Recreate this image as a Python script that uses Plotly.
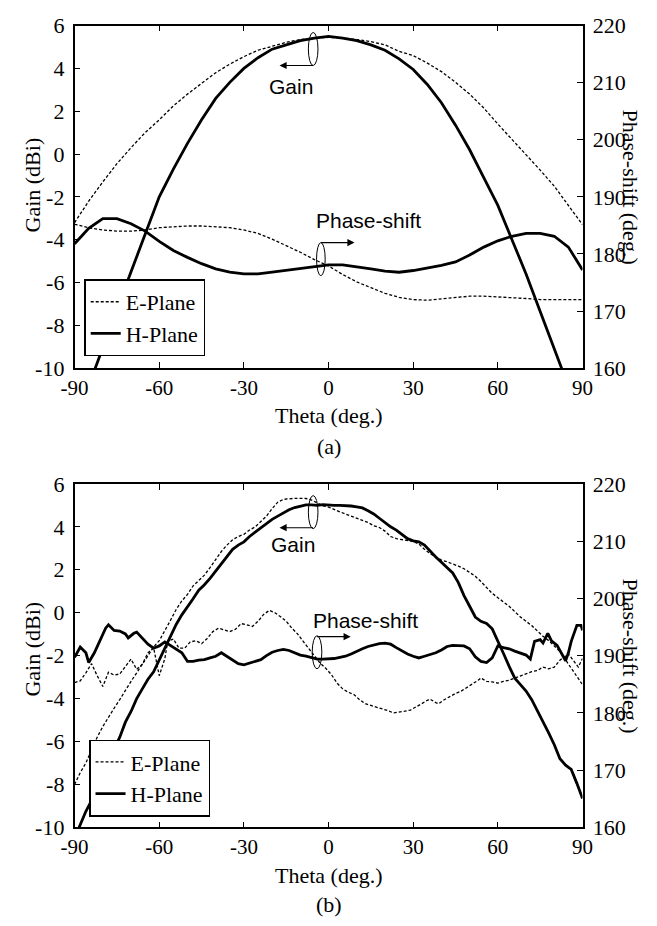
import plotly.graph_objects as go

W, H = 657, 926

# ---------------- data: panel (a) ----------------
theta_a = list(range(-90, 91, 5))
gain_e_a = [-3.2, -2.2, -1.3, -0.45, 0.3, 1.0, 1.6, 2.25, 2.8, 3.3, 3.8, 4.2, 4.55, 4.85, 5.05, 5.22, 5.35, 5.42, 5.45,
            5.42, 5.35, 5.25, 5.1, 4.8, 4.6, 4.25, 3.85, 3.35, 2.8, 2.15, 1.4, 0.7, 0.0, -0.75, -1.5, -2.4, -3.3]
gain_h_a = [-12.6, -10.8, -9.0, -7.25, -5.5, -3.75, -2.0, -0.7, 0.5, 1.6, 2.6, 3.35, 4.0, 4.5, 4.9, 5.1, 5.3, 5.42, 5.5,
            5.42, 5.3, 5.1, 4.85, 4.45, 3.95, 3.25, 2.4, 1.35, 0.2, -1.1, -2.4, -4.0, -5.6, -7.35, -9.1, -10.9, -12.6]
phase_e_a = [185.2, 184.6, 184.2, 184.0, 184.0, 184.2, 184.6, 184.8, 184.9, 184.9, 184.8, 184.6, 184.2, 183.6, 182.6,
             181.5, 180.3, 179.0, 177.9, 176.4, 175.1, 174.1, 173.1, 172.4, 172.0, 171.9, 172.1, 172.4, 172.6, 172.6,
             172.5, 172.3, 172.2, 172.0, 172.0, 172.0, 172.0]
phase_h_a = [181.8, 184.5, 186.2, 186.2, 185.3, 184.0, 182.2, 180.6, 179.4, 178.3, 177.4, 176.8, 176.5, 176.5, 176.8,
             177.1, 177.4, 177.8, 178.1, 178.1, 177.8, 177.4, 177.0, 176.8, 177.1, 177.5, 178.0, 178.6, 179.8, 181.2,
             182.3, 183.1, 183.6, 183.6, 183.1, 181.2, 177.2]

# ---------------- data: panel (b) ----------------
theta_b_gain = list(range(-90, 91, 2))
gain_e_b = [-8.0, -7.45, -7.0, -6.4, -5.8, -5.3, -4.85, -4.45, -4.05, -3.6,
            -3.2, -2.8, -2.4, -1.95, -1.6, -1.3, -0.85, -0.35, 0.15, 0.55,
            0.85, 1.25, 1.5, 1.75, 2.1, 2.5, 2.85, 3.15, 3.4, 3.55,
            3.65, 3.85, 4.0, 4.25, 4.5, 4.85, 5.15, 5.28, 5.32, 5.33,
            5.33, 5.32, 5.25, 5.1, 4.98, 4.92, 4.8, 4.7, 4.6, 4.5,
            4.4, 4.3, 4.2, 4.05, 3.97, 3.8, 3.55, 3.45, 3.4, 3.35,
            3.32, 3.2, 2.95, 2.75, 2.6, 2.45, 2.37, 2.28, 2.17, 2.05,
            1.88, 1.7, 1.45, 1.15, 0.9, 0.7, 0.5, 0.3, 0.05, -0.2,
            -0.4, -0.6, -0.85, -1.1, -1.3, -1.55, -1.8, -2.2, -2.6, -3.0,
            -3.35]
gain_h_b = [-10.5, -9.9, -9.25, -8.75, -8.2, -7.7, -7.0, -6.35, -5.8, -5.1,
            -4.6, -4.0, -3.55, -3.1, -2.75, -2.2, -1.6, -1.05, -0.55, -0.1,
            0.25, 0.65, 1.05, 1.3, 1.6, 1.95, 2.3, 2.65, 2.95, 3.15,
            3.3, 3.55, 3.75, 3.95, 4.15, 4.35, 4.5, 4.65, 4.8, 4.9,
            4.97, 5.02, 5.02, 5.0, 5.03, 5.0, 5.0, 5.0, 5.0, 4.97,
            4.93, 4.88, 4.75, 4.6, 4.4, 4.2, 4.0, 3.85, 3.65, 3.45,
            3.35, 3.3, 3.15, 2.85, 2.6, 2.35, 2.1, 1.85, 1.4, 0.8,
            0.3, -0.2, -0.4, -0.5, -0.75, -1.3, -1.9, -2.5, -3.05, -3.35,
            -3.65, -4.05, -4.55, -5.1, -5.6, -6.15, -6.8, -7.1, -7.3, -7.95,
            -8.65]

theta_b_phase_h = [-90, -88, -86, -85, -83, -81, -79, -78, -76, -74,
                   -72, -71, -69, -68, -66, -64, -62, -60, -58, -56,
                   -54, -52, -50, -48, -46, -44, -42, -40, -38, -36, -34, -32, -30, -28, -26, -24, -22, -20,
                   -18, -16, -14, -12, -10, -8, -6, -4, -2,
                   0, 2, 4, 6, 8, 10, 12, 14, 16, 18, 20, 22, 24, 26, 28, 30, 32, 34, 36, 38, 40, 42, 44, 46,
                   48, 50, 52, 54, 56, 58, 60, 62, 64, 66, 68, 70,
                   71.5, 73, 75, 76, 77.7, 79, 81, 83, 84, 85, 86, 88, 89.5, 90]
phase_h_b = [189.7, 191.5, 190.5, 188.8, 190.5, 192.8, 194.8, 195.4, 194.4, 194.3,
             193.8, 193.1, 193.9, 194.1, 193.1, 192.0, 191.3, 191.7, 192.4, 191.8,
             191.2, 190.5, 189.0, 189.0, 189.2, 189.3, 189.6, 189.9, 190.5, 189.9, 189.3, 188.6, 188.4, 188.7,
             189.0, 189.3, 190.0, 190.6, 190.9, 191.1, 190.9, 190.5, 190.1, 189.9, 189.6, 189.4, 189.4,
             189.4, 189.5, 189.7, 189.9, 190.3, 190.8, 191.2, 191.6, 191.9, 192.1, 192.2, 192.0, 191.4, 190.8,
             190.3, 189.9, 189.6, 189.9, 190.2, 190.5, 191.0, 191.6, 191.8, 191.8, 191.7, 191.2, 189.8, 189.0,
             188.8, 189.6, 191.7, 191.4, 191.2, 190.8, 190.4, 190.1,
             189.4, 192.5, 192.8, 192.2, 193.9, 192.6, 191.8, 190.0, 189.1, 190.5, 192.5, 195.3, 195.3, 194.4]

theta_b_phase_e = [-90, -88, -86, -84, -82, -80, -78, -76, -74, -72, -70, -68, -66, -64, -62, -60, -58,
                   -57, -55, -53, -51, -49, -47, -45, -43, -41, -39, -37, -35, -33, -31, -29, -27, -25, -23,
                   -21, -19, -17, -15, -13, -11, -9, -7, -5, -3, -1, 1, 3, 5, 7, 9, 11, 13, 15, 17, 19, 21,
                   23, 25, 27, 29, 31, 33, 35,
                   36, 38, 39, 41, 43, 45, 47, 49, 51, 53, 54, 56, 58, 60, 62, 64, 66, 68, 70, 72, 74, 76,
                   78, 80, 82, 84, 85, 87, 88.5, 90]
phase_e_b = [185.3, 185.6, 187.0, 188.6, 186.5, 184.6, 187.1, 186.6, 186.8, 188.0, 189.4, 187.6, 188.5, 190.5,
             191.4, 186.5, 189.5,
             192.5, 192.9, 191.3, 191.3, 192.4, 192.6, 192.1, 193.0, 194.2, 194.8,
             194.5, 194.2, 194.6, 195.6, 195.4, 195.1, 196.0, 197.2, 197.9, 197.5,
             196.8, 196.0, 194.8, 193.8, 192.5, 191.2, 190.0, 188.7, 187.8, 186.7,
             185.2, 184.2, 183.6, 183.2, 182.3, 181.6, 181.3, 181.0, 180.8, 180.4,
             180.0, 180.1, 180.3, 180.5, 181.0, 181.6, 182.2,
             182.4, 181.8, 181.6, 182.3, 182.9, 183.4, 183.8, 184.4, 185.0, 185.7,
             186.1, 185.5, 185.4, 185.2, 185.5, 185.7, 186.1, 186.5, 186.9, 187.2,
             187.4, 188.0, 187.7, 188.0, 189.2, 190.0, 190.3, 189.0, 188.0, 189.5]

x_ticks = [-90, -60, -30, 0, 30, 60, 90]
x_ticktext = ["-90", "-60", "-30", "0", "30", "60", "90"]
gain_ticks = [-10, -8, -6, -4, -2, 0, 2, 4, 6]
gain_ticktext = ["-10", "-8", "-6", "-4", "-2", "0", "2", "4", "6"]
phase_ticks = [160, 170, 180, 190, 200, 210, 220]
phase_ticktext = ["160", "170", "180", "190", "200", "210", "220"]

# ---------------- styling ----------------
SERIF = "Liberation Serif"
SANS = "Liberation Sans"
FS = 22
DASH = "3px,2px"
SOLID_W = 2.8
DASH_W = 1.3


def px(x):
    return x / W


def py(y):
    return 1 - y / H


fig = go.Figure()

# panel (a)
fig.add_trace(go.Scatter(x=theta_a, y=gain_e_a, mode="lines", name="E-Plane",
                         line=dict(color="black", width=DASH_W, dash=DASH), xaxis="x", yaxis="y", legend="legend"))
fig.add_trace(go.Scatter(x=theta_a, y=gain_h_a, mode="lines", name="H-Plane",
                         line=dict(color="black", width=SOLID_W), xaxis="x", yaxis="y", legend="legend"))
fig.add_trace(go.Scatter(x=theta_a, y=phase_e_a, mode="lines", showlegend=False,
                         line=dict(color="black", width=DASH_W, dash=DASH), xaxis="x", yaxis="y2"))
fig.add_trace(go.Scatter(x=theta_a, y=phase_h_a, mode="lines", showlegend=False,
                         line=dict(color="black", width=SOLID_W), xaxis="x", yaxis="y2"))

# panel (b)
fig.add_trace(go.Scatter(x=theta_b_gain, y=gain_e_b, mode="lines", name="E-Plane",
                         line=dict(color="black", width=DASH_W, dash=DASH), xaxis="x2", yaxis="y3",
                         legend="legend2"))
fig.add_trace(go.Scatter(x=theta_b_gain, y=gain_h_b, mode="lines", name="H-Plane",
                         line=dict(color="black", width=SOLID_W), xaxis="x2", yaxis="y3", legend="legend2"))
fig.add_trace(go.Scatter(x=theta_b_phase_e, y=phase_e_b, mode="lines", showlegend=False,
                         line=dict(color="black", width=DASH_W, dash=DASH), xaxis="x2", yaxis="y4"))
fig.add_trace(go.Scatter(x=theta_b_phase_h, y=phase_h_b, mode="lines", showlegend=False,
                         line=dict(color="black", width=SOLID_W), xaxis="x2", yaxis="y4"))

x_dom = [px(63), px(591)]
ya_dom = [py(366), py(14)]
yb_dom = [py(838), py(485)]

common = dict(showline=True, linecolor="black", linewidth=1.5, ticks="inside", ticklen=6, tickwidth=1.2,
              tickcolor="black", showgrid=False, zeroline=False,
              tickfont=dict(family=SERIF, size=FS, color="black"))

xcommon = dict(common, range=[-90, 90], tickvals=x_ticks, ticktext=x_ticktext, mirror="ticks",
               ticklabelstandoff=0, tickfont=dict(family=SERIF, size=21, color="black"))
gcommon = dict(common, range=[-10, 6], tickvals=gain_ticks, ticktext=gain_ticktext, ticklabelstandoff=4)
pcommon = dict(common, range=[160, 220], tickvals=phase_ticks, ticktext=phase_ticktext, side="right",
               ticklabelstandoff=4)

legend_common = dict(font=dict(family=SERIF, size=FS, color="black"), bgcolor="white", bordercolor="black",
                     borderwidth=1.5, xanchor="left", yanchor="bottom", tracegroupgap=0, itemwidth=30)

fig.update_layout(
    width=W, height=H, margin=dict(l=0, r=0, t=0, b=0),
    plot_bgcolor="white", paper_bgcolor="white",
    xaxis=dict(xcommon, domain=x_dom, anchor="y"),
    yaxis=dict(gcommon, domain=ya_dom, anchor="x"),
    yaxis2=dict(pcommon, overlaying="y", anchor="x"),
    xaxis2=dict(xcommon, domain=x_dom, anchor="y3"),
    yaxis3=dict(gcommon, domain=yb_dom, anchor="x2"),
    yaxis4=dict(pcommon, overlaying="y3", anchor="x2"),
    legend=dict(legend_common, x=px(73), y=py(354)),
    legend2=dict(legend_common, x=px(78), y=py(827)),
)

shapes = []
annotations = []


def ellipse(cx, cy, rx, ry):
    shapes.append(dict(type="circle", xref="paper", yref="paper", x0=px(cx - rx), x1=px(cx + rx),
                       y0=py(cy + ry), y1=py(cy - ry), line=dict(color="black", width=1)))


def arrow(tx, ty, hx, hy):
    annotations.append(dict(xref="paper", yref="paper", x=px(hx), y=py(hy), ax=tx - hx, ay=ty - hy,
                            text="", showarrow=True, arrowhead=2, arrowsize=1.3, arrowwidth=1.1,
                            arrowcolor="black"))


def text(t, x, y, family, size, angle=0):
    annotations.append(dict(xref="paper", yref="paper", x=px(x), y=py(y), text=t, showarrow=False,
                            textangle=angle, xanchor="center", yanchor="middle",
                            font=dict(family=family, size=size, color="black")))


# panel (a) annotations
ellipse(311, 38, 5, 17)
arrow(311, 55, 276, 55)
text("Gain", 288, 77, SANS, 21)
ellipse(319, 254, 4.5, 17)
arrow(319, 237, 354, 237)
text("Phase-shift", 369, 214, SANS, 21)
text("Gain (dBi)", 19, 178, SERIF, FS, -90)
text("Phase-shift (deg.)", 641, 180, SERIF, FS, 90)
text("Theta (deg.)", 327, 415, SERIF, FS)
text("(a)", 327, 447, SERIF, FS)

# panel (b) annotations
ellipse(311, 514, 5, 17)
arrow(311, 530, 276, 530)
text("Gain", 290, 547, SANS, 21)
ellipse(315, 658, 5, 17)
arrow(315, 642, 350, 642)
text("Phase-shift", 365, 625, SANS, 21)
text("Gain (dBi)", 19, 655, SERIF, FS, -90)
text("Phase-shift (deg.)", 641, 662, SERIF, FS, 90)
text("Theta (deg.)", 327, 887, SERIF, FS)
text("(b)", 327, 917, SERIF, FS)

fig.update_layout(shapes=shapes, annotations=annotations)

fig.write_html("out.html")
